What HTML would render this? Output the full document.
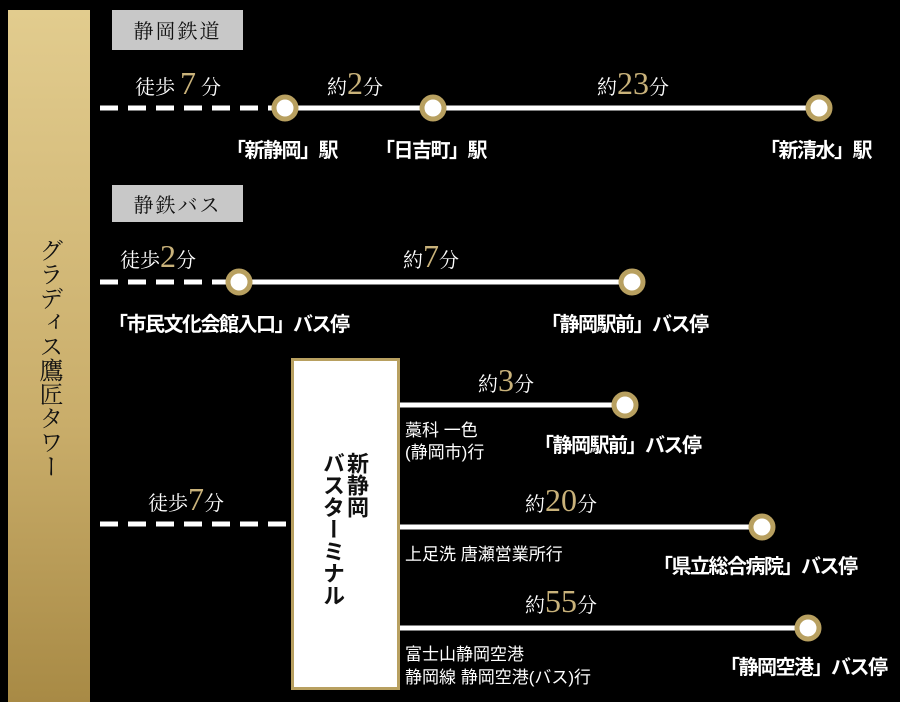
<!DOCTYPE html>
<html><head><meta charset="utf-8"><style>
body{margin:0;background:#000;width:900px;height:702px;overflow:hidden;position:relative;font-family:"Liberation Sans","Noto Sans CJK JP",sans-serif;color:#fff}
.a{position:absolute;white-space:nowrap}
.s{font-family:"Liberation Serif","Noto Serif CJK SC",serif;font-size:20px}
.n{font-family:"Liberation Serif",serif;font-size:32px;color:#c9b27a}
.l{font-size:20px;font-weight:bold;letter-spacing:-1.5px}
.t{font-size:17px}
.g{position:absolute;background:#c8c8c8;color:#111;font-family:"Noto Serif CJK SC",serif;font-size:20px;letter-spacing:2px;text-align:center}
</style></head><body>
<div class="a" style="left:8px;top:10px;width:82px;height:692px;background:linear-gradient(#e2cc8e,#c9ad6a 60%,#a88a45)"></div>
<div class="a" style="left:34px;top:238px;writing-mode:vertical-rl;font-family:'Noto Serif CJK SC',serif;font-size:24px;color:#111;letter-spacing:0px">グラディス鷹匠タワー</div>
<div class="g" style="left:112px;top:10px;width:131px;height:40px;line-height:40px">静岡鉄道</div>
<div class="g" style="left:112px;top:185px;width:131px;height:37px;line-height:37px">静鉄バス</div>
<svg class="a" style="left:0;top:0" width="900" height="702">
<g stroke="#fff" stroke-width="5" fill="none">
<line x1="100" y1="108" x2="272" y2="108" stroke-dasharray="18,10"/>
<line x1="285" y1="108" x2="819" y2="108"/>
<line x1="100" y1="282" x2="226" y2="282" stroke-dasharray="18,10"/>
<line x1="239" y1="282" x2="632" y2="282"/>
<line x1="100" y1="524" x2="288" y2="524" stroke-dasharray="18,10"/>
<line x1="400" y1="405" x2="625" y2="405"/>
<line x1="400" y1="527" x2="762" y2="527"/>
<line x1="400" y1="628" x2="808" y2="628"/>
</g>
<g fill="#fff" stroke="#b8a060" stroke-width="5">
<circle cx="285" cy="108" r="11"/><circle cx="433" cy="108" r="11"/><circle cx="819" cy="108" r="11"/>
<circle cx="239" cy="282" r="11"/><circle cx="632" cy="282" r="11"/>
<circle cx="625" cy="405" r="11"/><circle cx="762" cy="527" r="11"/><circle cx="808" cy="628" r="11"/>
</g>
<rect x="292.5" y="359.5" width="106" height="329" fill="#fff" stroke="#b8a060" stroke-width="3"/>
</svg>
<div class="a" style="left:320px;top:452px;writing-mode:vertical-rl;font-size:22px;font-weight:bold;color:#111;line-height:24px">新静岡<br>バスターミナル</div>
<div class="a" style="left:135px;top:65px"><span class="s">徒歩 </span><span class="n">7</span><span class="s"> 分</span></div>
<div class="a" style="left:327px;top:65px"><span class="s">約</span><span class="n">2</span><span class="s">分</span></div>
<div class="a" style="left:597px;top:65px"><span class="s">約</span><span class="n">23</span><span class="s">分</span></div>
<div class="a l" style="left:226px;top:134px">「新静岡」駅</div>
<div class="a l" style="left:375px;top:134px">「日吉町」駅</div>
<div class="a l" style="left:760px;top:134px">「新清水」駅</div>
<div class="a" style="left:120px;top:238px"><span class="s">徒歩</span><span class="n">2</span><span class="s">分</span></div>
<div class="a" style="left:403px;top:238px"><span class="s">約</span><span class="n">7</span><span class="s">分</span></div>
<div class="a l" style="left:108px;top:308px">「市民文化会館入口」バス停</div>
<div class="a l" style="left:541px;top:308px">「静岡駅前」バス停</div>
<div class="a" style="left:478px;top:362px"><span class="s">約</span><span class="n">3</span><span class="s">分</span></div>
<div class="a" style="left:525px;top:482px"><span class="s">約</span><span class="n">20</span><span class="s">分</span></div>
<div class="a" style="left:525px;top:583px"><span class="s">約</span><span class="n">55</span><span class="s">分</span></div>
<div class="a" style="left:148px;top:481px"><span class="s">徒歩</span><span class="n">7</span><span class="s">分</span></div>
<div class="a t" style="left:405px;top:420px;line-height:22px">藁科 一色<br>(静岡市)行</div>
<div class="a t" style="left:405px;top:540px">上足洗 唐瀬営業所行</div>
<div class="a t" style="left:405px;top:643px;line-height:23px">富士山静岡空港<br>静岡線 静岡空港(バス)行</div>
<div class="a l" style="left:534px;top:429px">「静岡駅前」バス停</div>
<div class="a l" style="left:653px;top:550px">「県立総合病院」バス停</div>
<div class="a l" style="left:720px;top:651px">「静岡空港」バス停</div>
</body></html>
